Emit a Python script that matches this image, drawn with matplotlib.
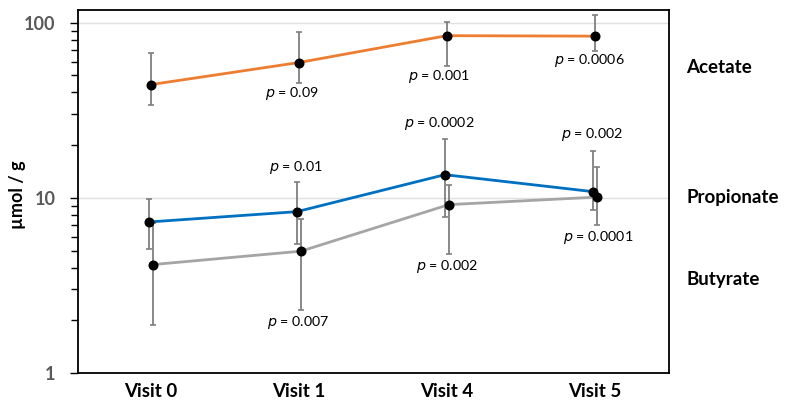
import matplotlib
matplotlib.use("Agg")
import matplotlib.pyplot as plt
from matplotlib.ticker import NullFormatter, FixedLocator, FixedFormatter
import numpy as np

plt.rcParams['font.family'] = ['Lato', 'DejaVu Sans']

visits = ["Visit 0", "Visit 1", "Visit 4", "Visit 5"]

acetate = [44.3, 59.2, 84.3, 83.8]
acetate_hi = [67.2, 88.5, 100.4, 111.0]
acetate_lo = [34.1, 45.5, 56.3, 69.0]

propionate = [7.28, 8.34, 13.56, 10.85]
propionate_hi = [9.9, 12.25, 21.8, 18.5]
propionate_lo = [5.09, 5.48, 7.78, 8.49]

butyrate = [4.16, 4.96, 9.15, 10.1]
butyrate_hi = [7.22, 7.61, 11.83, 15.07]
butyrate_lo = [1.88, 2.29, 4.76, 7.03]

series_names = ["Acetate", "Propionate", "Butyrate"]

p_labels = ["p = 0.09", "p = 0.001", "p = 0.0006",
            "p = 0.01", "p = 0.0002", "p = 0.002",
            "p = 0.007", "p = 0.002", "p = 0.0001"]

fig = plt.figure(figsize=(7.85, 4.04), dpi=100)
ax = fig.add_axes([0.0994, 0.0767, 0.7526, 0.8983])

x = np.arange(len(visits))
series = [
    (acetate, acetate_lo, acetate_hi, "#ED7D31", 0.0),
    (propionate, propionate_lo, propionate_hi, "#0070C0", -0.012),
    (butyrate, butyrate_lo, butyrate_hi, "#A5A5A5", 0.015),
]

for vals, lo, hi, col, off in series:
    vals = np.array(vals); lo = np.array(lo); hi = np.array(hi)
    xs = x + off
    ax.errorbar(xs, vals, yerr=[vals - lo, hi - vals], fmt='none',
                ecolor='#7F7F7F', elinewidth=1.3, capsize=2.5, capthick=1.2, zorder=2)
    ax.plot(xs, vals, color=col, lw=2.0, zorder=3)
    ax.plot(xs, vals, 'o', color='black', ms=6.2, zorder=4)

ax.set_yscale('log')
ax.set_ylim(1, 118)
ax.set_xlim(-0.49, 3.5)

minor = [m * d for d in (1, 10) for m in range(2, 10)]
ax.yaxis.set_major_locator(FixedLocator([1, 10, 100]))
ax.yaxis.set_major_formatter(FixedFormatter(["1", "10", "100"]))
ax.yaxis.set_minor_locator(FixedLocator(minor))
ax.yaxis.set_minor_formatter(NullFormatter())
ax.tick_params(axis='y', which='major', length=6, width=1.0, colors='black',
               labelcolor='#595959', labelsize=13, pad=10)
ax.tick_params(axis='y', which='minor', length=5, width=1.0, colors='black')
for lab in ax.get_yticklabels():
    lab.set_fontweight('bold')

ax.set_xticks(x)
ax.set_xticklabels(visits, fontsize=13.5, fontweight='bold')
ax.tick_params(axis='x', length=0, pad=7)

ax.grid(axis='y', which='major', color='#E0E0E0', lw=1.0, zorder=0)
for s in ax.spines.values():
    s.set_color('black')
    s.set_linewidth(1.3)

ax.set_ylabel("µmol / g", fontsize=13, fontweight='bold')
ax.yaxis.set_label_coords(-0.088, 0.49)

def ptext(xd, yd, s):
    num = s.split("= ")[1]
    ax.text(xd, yd, r"$\it{p}$" + " = " + num, ha='center', va='center',
            fontsize=10.3, color='black', zorder=5)

def ypix(p):
    return 10**((374 - p) / 175.5)

ptext(0.955, ypix(94), p_labels[0])
ptext(1.95, ypix(77), p_labels[1])
ptext(2.96, ypix(61), p_labels[2])
ptext(0.98, ypix(168), p_labels[3])
ptext(1.95, ypix(124), p_labels[4])
ptext(2.98, ypix(135), p_labels[5])
ptext(1.0, ypix(323), p_labels[6])
ptext(2.0, ypix(267), p_labels[7])
ptext(3.02, ypix(238), p_labels[8])

label_y = [ypix(68), ypix(198), ypix(280)]
for name, yv in zip(series_names, label_y):
    ax.text(3.62, yv, name, ha='left', va='center', fontsize=13.5,
            fontweight='bold', color='black', clip_on=False)

fig.savefig("out.png", dpi=100)
